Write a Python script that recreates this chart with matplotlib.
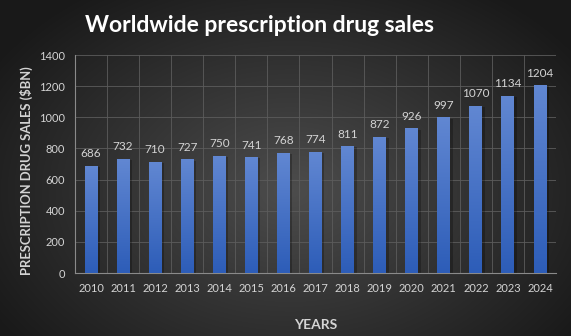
import numpy as np
import matplotlib.pyplot as plt
from matplotlib.colors import LinearSegmentedColormap

years = ["2010", "2011", "2012", "2013", "2014", "2015", "2016", "2017",
         "2018", "2019", "2020", "2021", "2022", "2023", "2024"]
sales = [686, 732, 710, 727, 750, 741, 768, 774, 811, 872, 926, 997, 1070, 1134, 1204]
yticks = [0, 200, 400, 600, 800, 1000, 1200, 1400]

plt.rcParams["font.family"] = ["Lato", "DejaVu Sans"]

text_col = "#d4d4d4"
grid_col = "#5c5c5c"

fig = plt.figure(figsize=(5.71, 3.36), dpi=100)

# radial background: lighter in the middle, dark toward the corners
bg = fig.add_axes([0, 0, 1, 1], zorder=-10)
yy, xx = np.mgrid[0:336, 0:571]
r = np.sqrt(((xx - 290) / 330.0) ** 2 + ((yy - 190) / 230.0) ** 2)
shade = np.clip(0.30 - 0.19 * r, 0.10, 0.30)
bg.imshow(np.dstack([shade, shade, shade]), aspect="auto", extent=[0, 1, 0, 1])
bg.axis("off")

ax = fig.add_axes([75 / 571, 1 - 273 / 336, 481 / 571, 218 / 336])
ax.patch.set_alpha(0)

x = np.arange(len(years))
bars = ax.bar(x, sales, width=0.4, color="none", zorder=3)

blue = LinearSegmentedColormap.from_list("blue", ["#2d5db8", "#6187d2"])
grad = np.linspace(0, 1, 100).reshape(-1, 1)
for b in bars:
    x0, w, h = b.get_x(), b.get_width(), b.get_height()
    # soft drop shadow to the right
    ax.bar(x0 + w / 2 + 0.08, h, width=w, bottom=-5, color="black", alpha=0.25,
           zorder=2, clip_on=False)
    ax.imshow(grad, cmap=blue, origin="lower", aspect="auto",
              extent=[x0, x0 + w, 0, h], zorder=4)

for xi, v in zip(x, sales):
    ax.text(xi, v + 45, str(v), ha="center", va="bottom", color=text_col, fontsize=8.5)

ax.set_xlim(-0.5, len(years) - 0.5)
ax.set_ylim(0, 1400)
ax.set_yticks(yticks)
ax.set_xticks(x)
ax.set_xticklabels(years)
ax.set_xticks(np.arange(-0.5, len(years)), minor=True)
ax.grid(which="minor", axis="x", color=grid_col, lw=0.6, zorder=0)
ax.grid(which="major", axis="y", color=grid_col, lw=0.6, zorder=0)
ax.tick_params(which="both", length=0, colors=text_col, labelsize=8)
ax.tick_params(axis="y", pad=7)
ax.tick_params(axis="x", pad=7)
for s in ["top", "right"]:
    ax.spines[s].set_visible(False)
for s in ["left", "bottom"]:
    ax.spines[s].set_color("#8a8a8a")
    ax.spines[s].set_linewidth(0.8)

ax.set_ylabel("PRESCRIPTION DRUG SALES ($BN)", color=text_col, fontsize=9.4,
              fontweight="bold", va="center")
ax.yaxis.set_label_coords(-0.1, 0.468)
ax.set_xlabel("YEARS", color=text_col, fontsize=10, fontweight="bold", labelpad=18)

fig.text(0.455, 1 - 26 / 336, "Worldwide prescription drug sales", ha="center",
         va="center", color="white", fontsize=16.5, fontweight="bold")

fig.savefig("out.png", dpi=100)
